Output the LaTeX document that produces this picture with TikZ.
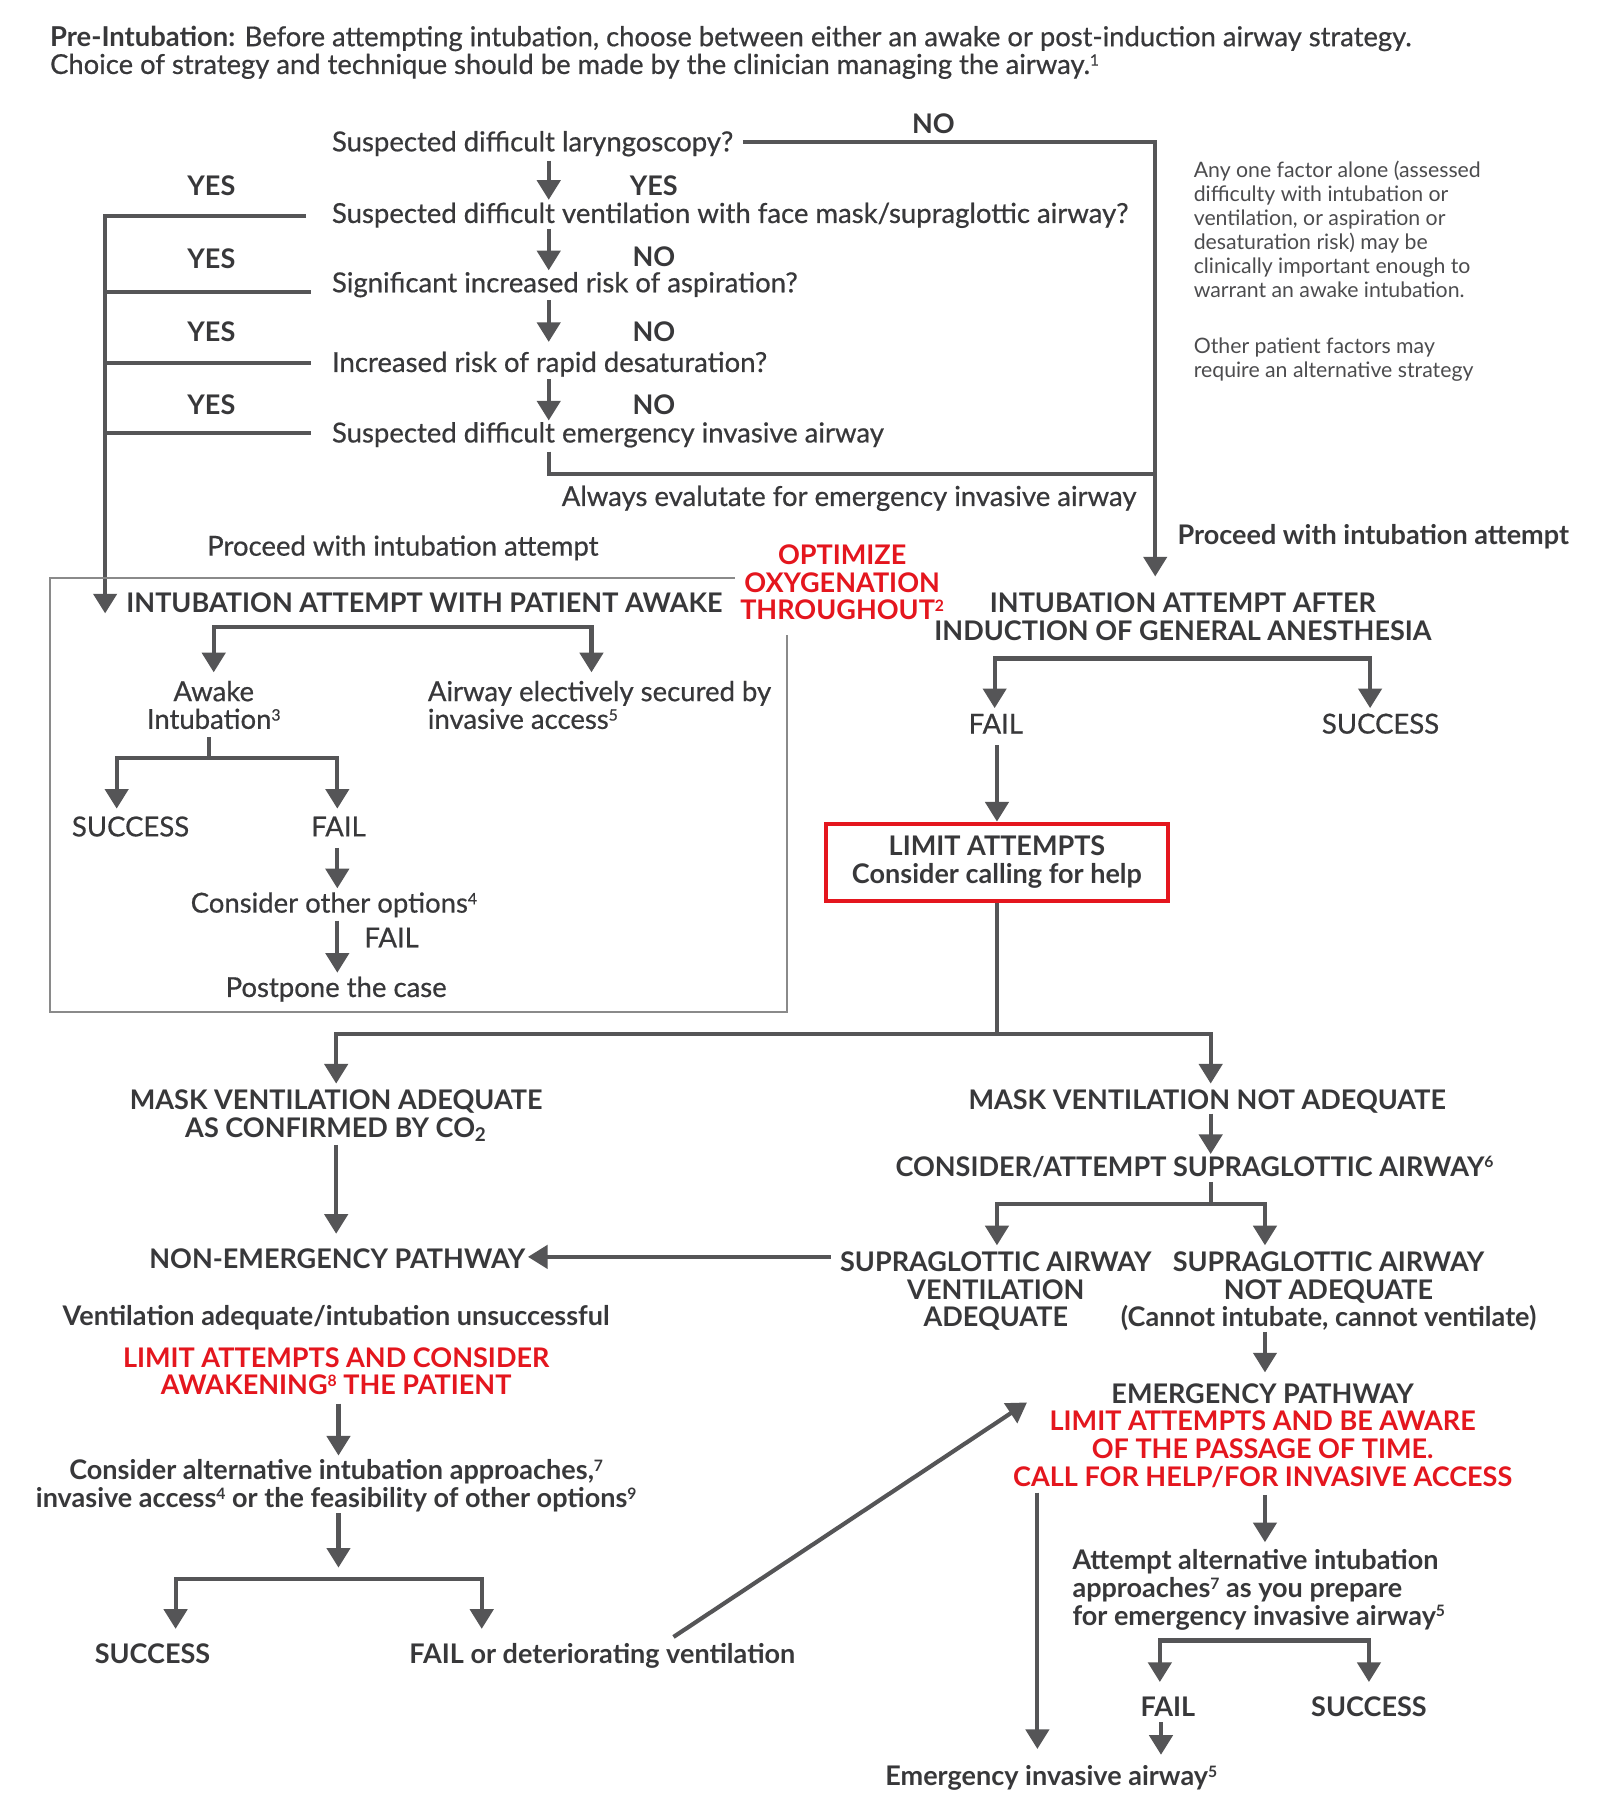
\documentclass[tikz,border=0pt]{standalone}
\usepackage{fontspec}
\setmainfont{Lato}
\newfontfamily\medfont{Lato}[FakeBold=0.6]
\newcommand\tightls{\lineskiplimit=-20pt\relax}
\newcommand\sps[1]{\raisebox{3.6pt}{\fontsize{6.8}{7}\selectfont #1}}
\usetikzlibrary{arrows.meta}
\definecolor{txt}{HTML}{38383A}
\definecolor{lc}{HTML}{555557}
\definecolor{rd}{HTML}{E4161E}
\definecolor{bx}{HTML}{8A8A8A}
\begin{document}
\begin{tikzpicture}[x=0.5pt,y=-0.5pt,
  every node/.style={text=txt,inner sep=0pt},
  ln/.style={draw=lc,line width=1.8pt},
  arr/.style={ln,-{Triangle[width=10pt,length=8.5pt]}},
  arrtwo/.style={ln,{Triangle[width=10pt,length=8.5pt]}-{Triangle[width=10pt,length=8.5pt]}},
  rg/.style={font=\medfont\fontsize{11.9}{12}\selectfont\tightls},
  bd/.style={font=\fontsize{11.7}{12}\selectfont\bfseries\tightls},
  alert/.style={bd,text=rd},
  hd/.style={font=\medfont\fontsize{11.85}{12.5}\selectfont,anchor=base west},
  note/.style={font=\fontsize{9.2}{10.4}\selectfont\tightls,text=txt!90,align=left,anchor=north west}]
\useasboundingbox[fill=white] (0,0) rectangle (1385,1572);

% ---------- header ----------
\node[hd] (h1) at (43,40) {{\normalfont\bfseries Pre-Intubation:} Before attempting intubation, choose between either an awake or post-induction airway strategy.};
\node[hd] (h2) at (43,64) {Choice of strategy and technique should be made by the clinician managing the airway.\sps{1}};

% ---------- questions ----------
\node[rg,anchor=base west] (q1) at (287,131) {Suspected difficult laryngoscopy?};
\node[rg,anchor=base west] (q2) at (287,193) {Suspected difficult ventilation with face mask/supraglottic airway?};
\node[rg,anchor=base west] (q3) at (287,253) {Significant increased risk of aspiration?};
\node[rg,anchor=base west] (q4) at (287,322) {Increased risk of rapid desaturation?};
\node[rg,anchor=base west] (q5) at (287,383) {Suspected difficult emergency invasive airway};

\node[bd,anchor=base] (no0) at (808,116) {NO};
\node[bd,anchor=base] (yl1) at (183,169) {YES};
\node[bd,anchor=base] (yl2) at (183,232) {YES};
\node[bd,anchor=base] (yl3) at (183,296) {YES};
\node[bd,anchor=base] (yl4) at (183,359) {YES};
\node[bd,anchor=base] (ym1) at (566,169) {YES};
\node[bd,anchor=base] (ym2) at (566,231) {NO};
\node[bd,anchor=base] (ym3) at (566,296) {NO};
\node[bd,anchor=base] (ym4) at (566,359) {NO};

\node[note] (note1) at (1033,139) {Any one factor alone (assessed\\difficulty with intubation or\\ventilation, or aspiration or\\desaturation risk) may be\\clinically important enough to\\warrant an awake intubation.};
\node[note] (note2) at (1033,292) {Other patient factors may\\require an alternative strategy};

\node[rg,anchor=base] (always) at (735,438) {Always evalutate for emergency invasive airway};
\node[rg,anchor=base west] (proc1) at (179,481) {Proceed with intubation attempt};
\node[bd,anchor=base west] (proc2) at (1019,471) {Proceed with intubation attempt};
\node[alert,anchor=north,align=center] (optim) at (729,471) {OPTIMIZE\\OXYGENATION\\THROUGHOUT\sps{2}};

% question connectors
\coordinate (a1) at (475,139); \coordinate (a2) at (475,173);
\coordinate (b1) at (475,198); \coordinate (b2) at (475,234);
\coordinate (c1) at (475,260); \coordinate (c2) at (475,296);
\coordinate (d1) at (475,328); \coordinate (d2) at (475,364);
\coordinate (e1) at (475,391); \coordinate (e2) at (475,410);
\coordinate (nr0) at (643,123); \coordinate (nr1) at (1000,123);
\coordinate (nr2) at (1000,410); \coordinate (nr3) at (1000,499);
\coordinate (yv0) at (91,187); \coordinate (yv1) at (91,531);
\coordinate (ys1) at (265,187);
\coordinate (ys2) at (269,253); \coordinate (yj2) at (91,253);
\coordinate (ys3) at (269,314); \coordinate (yj3) at (91,314);
\coordinate (ys4) at (269,375); \coordinate (yj4) at (91,375);
\draw[arr] (a1) -- (a2);
\draw[arr] (b1) -- (b2);
\draw[arr] (c1) -- (c2);
\draw[arr] (d1) -- (d2);
\draw[ln] (e1) -- (e2) -- (nr2);
\draw[arr] (nr0) -- (nr1) -- (nr3);
\draw[arr] (ys1) -- (yv0) -- (yv1);
\draw[ln] (ys2) -- (yj2);
\draw[ln] (ys3) -- (yj3);
\draw[ln] (ys4) -- (yj4);

% ---------- awake box ----------
\draw[draw=bx,line width=0.9pt] (636,500) -- (43,500) -- (43,876) -- (681,876) -- (681,550);
\node[bd,anchor=base west] (awt) at (109,530) {INTUBATION ATTEMPT WITH PATIENT AWAKE};
\node[rg,anchor=north,align=center] (awake) at (185,589) {Awake\\Intubation\sps{3}};
\node[rg,anchor=north west,align=left] (elect) at (370,589) {Airway electively secured by\\invasive access\sps{5}};
\node[rg,anchor=base] (succ1) at (113,724) {SUCCESS};
\node[rg,anchor=base] (fail1) at (293,724) {FAIL};
\node[rg,anchor=base] (other) at (289,790) {Consider other options\sps{4}};
\node[rg,anchor=base] (fail2) at (339,820) {FAIL};
\node[rg,anchor=base] (postp) at (291,863) {Postpone the case};
\coordinate (w1) at (185,582); \coordinate (w2) at (185,543);
\coordinate (w3) at (512,543); \coordinate (w4) at (512,582);
\coordinate (s0) at (181,638); \coordinate (s1) at (181,656);
\coordinate (s2) at (101,700); \coordinate (s3) at (101,656);
\coordinate (s4) at (292,656); \coordinate (s5) at (292,700);
\coordinate (f1) at (292,734); \coordinate (f2) at (292,769);
\coordinate (f3) at (292,797); \coordinate (f4) at (292,842);
\draw[arrtwo] (w1) -- (w2) -- (w3) -- (w4);
\draw[ln] (s0) -- (s1);
\draw[arrtwo] (s2) -- (s3) -- (s4) -- (s5);
\draw[arr] (f1) -- (f2);
\draw[arr] (f3) -- (f4);

% ---------- induction branch ----------
\node[bd,anchor=north,align=center] (induct) at (1024,513) {INTUBATION ATTEMPT AFTER\\INDUCTION OF GENERAL ANESTHESIA};
\node[rg,anchor=base] (fail3) at (862,635) {FAIL};
\node[rg,anchor=base] (succ3) at (1195,635) {SUCCESS};
\node[bd,align=center,draw=rd,line width=1.8pt,minimum width=148pt,minimum height=33.5pt] (limit) at (863,746.5) {LIMIT ATTEMPTS\\Consider calling for help};
\coordinate (i1) at (861,613); \coordinate (i2) at (861,570);
\coordinate (i3) at (1186,570); \coordinate (i4) at (1186,613);
\coordinate (g1) at (863,645);
\draw[arrtwo] (i1) -- (i2) -- (i3) -- (i4);
\draw[arr] (g1) -- (limit.north);
\coordinate (lj) at (863,895);
\coordinate (m1) at (291,938); \coordinate (m2) at (291,895);
\coordinate (m3) at (1048,895); \coordinate (m4) at (1048,938);
\draw[ln] (limit.south) -- (lj);
\draw[arrtwo] (m1) -- (m2) -- (m3) -- (m4);

% ---------- mask ventilation ----------
\node[bd,anchor=north,align=center] (maskok) at (291,943) {MASK VENTILATION ADEQUATE\\AS CONFIRMED BY CO\textsubscript{2}};
\node[bd,anchor=base] (masknot) at (1045,960) {MASK VENTILATION NOT ADEQUATE};
\node[bd,anchor=base] (nonem) at (292,1098) {NON-EMERGENCY PATHWAY};
\node[bd,anchor=base] (consg) at (1034,1018) {CONSIDER/ATTEMPT SUPRAGLOTTIC AIRWAY\sps{6}};
\node[bd,anchor=north,align=center] (sgaok) at (862,1083) {SUPRAGLOTTIC AIRWAY\\VENTILATION\\ADEQUATE};
\node[bd,anchor=north,align=center] (sganot) at (1150,1083) {SUPRAGLOTTIC AIRWAY\\NOT ADEQUATE\\(Cannot intubate, cannot ventilate)};
\coordinate (n1) at (291,991); \coordinate (n2) at (291,1068);
\coordinate (n3) at (719,1088); \coordinate (n4) at (457,1088);
\coordinate (p1) at (1048,964); \coordinate (p2) at (1048,999);
\coordinate (p3) at (1048,1023); \coordinate (p4) at (1048,1042);
\coordinate (p5) at (863,1078); \coordinate (p6) at (863,1042);
\coordinate (p7) at (1095,1042); \coordinate (p8) at (1095,1078);
\draw[arr] (n1) -- (n2);
\draw[arr] (n3) -- (n4);
\draw[arr] (p1) -- (p2);
\draw[ln] (p3) -- (p4);
\draw[arrtwo] (p5) -- (p6) -- (p7) -- (p8);

% ---------- non-emergency pathway ----------
\node[bd,anchor=base] (ventok) at (291,1147) {Ventilation adequate/intubation unsuccessful};
\node[alert,anchor=north,align=center] (limit2) at (291,1166) {LIMIT ATTEMPTS AND CONSIDER\\AWAKENING\sps{8} THE PATIENT};
\node[bd,anchor=north,align=center] (consalt) at (291,1263) {Consider alternative intubation approaches,\sps{7}\\invasive access\sps{4} or the feasibility of other options\sps{9}};
\node[bd,anchor=base] (succ4) at (132,1440) {SUCCESS};
\node[bd,anchor=base west] (faildet) at (354,1440) {FAIL or deteriorating ventilation};
\coordinate (k1) at (293,1215); \coordinate (k2) at (293,1260);
\coordinate (k3) at (293,1310); \coordinate (k4) at (293,1357);
\coordinate (k5) at (152,1410); \coordinate (k6) at (152,1367);
\coordinate (k7) at (417,1367); \coordinate (k8) at (417,1410);
\draw[arr] (k1) -- (k2);
\draw[arr] (k3) -- (k4);
\draw[arrtwo] (k5) -- (k6) -- (k7) -- (k8);

% ---------- emergency pathway ----------
\node[bd,anchor=north,align=center] (emerg) at (1093,1197) {EMERGENCY PATHWAY\\\textcolor{rd}{LIMIT ATTEMPTS AND BE AWARE}\\\textcolor{rd}{OF THE PASSAGE OF TIME.}\\\textcolor{rd}{CALL FOR HELP/FOR INVASIVE ACCESS}};
\node[bd,anchor=north west,align=left] (attalt) at (928,1341) {Attempt alternative intubation\\approaches\sps{7} as you prepare\\for emergency invasive airway\sps{5}};
\node[bd,anchor=base] (fail5) at (1011,1486) {FAIL};
\node[bd,anchor=base] (succ5) at (1185,1486) {SUCCESS};
\node[bd,anchor=base] (einv) at (910,1546) {Emergency invasive airway\sps{5}};
\coordinate (t1) at (1095,1153); \coordinate (t2) at (1095,1188);
\coordinate (t3) at (1095,1294); \coordinate (t4) at (1095,1335);
\coordinate (u1) at (1004,1456); \coordinate (u2) at (1004,1420);
\coordinate (u3) at (1185,1420); \coordinate (u4) at (1185,1456);
\coordinate (u5) at (1005,1491); \coordinate (u6) at (1005,1519);
\coordinate (v1) at (898,1292); \coordinate (v2) at (898,1514);
\coordinate (dg1) at (583,1417); \coordinate (dg2) at (889,1214);
\draw[arr] (t1) -- (t2);
\draw[arr] (t3) -- (t4);
\draw[arrtwo] (u1) -- (u2) -- (u3) -- (u4);
\draw[arr] (u5) -- (u6);
\draw[arr] (v1) -- (v2);
\draw[arr] (dg1) -- (dg2);
\end{tikzpicture}
\end{document}
